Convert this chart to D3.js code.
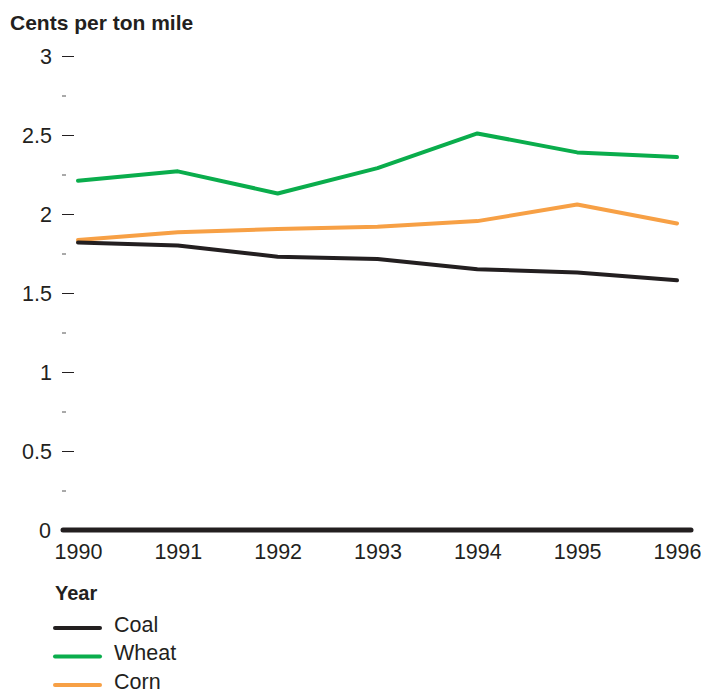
<!DOCTYPE html>
<html><head><meta charset="utf-8">
<script src="https://cdn.jsdelivr.net/npm/d3@7"></script>
<style>body{margin:0;background:#fff}text{font-family:"Liberation Sans",Arial,sans-serif;fill:#231f20}</style>
</head><body><svg id="c" width="701" height="694"></svg>
<script>
const years=[1990,1991,1992,1993,1994,1995,1996];
const coal=[1.82,1.80,1.73,1.715,1.65,1.63,1.58];
const wheat=[2.21,2.27,2.13,2.29,2.51,2.39,2.36];
const corn=[1.835,1.885,1.905,1.92,1.955,2.06,1.94];
const seriesNames=["Coal","Wheat","Corn"];
const seriesColors=["#231f20","#0aad4c","#f7a045"];
const majorTicks=[0,0.5,1,1.5,2,2.5,3];
const minorTicks=[0.25,0.75,1.25,1.75,2.25,2.75];

const svg=d3.select("#c");
const x=d3.scalePoint().domain(years).range([78,677]);
const y=d3.scaleLinear().domain([0,3]).range([530,56]);
const FS=21.5;

svg.append("text").attr("x",10).attr("y",30).attr("font-size",21).attr("font-weight","bold").text("Cents per ton mile");

const ya=svg.append("g").attr("transform","translate(74,0)")
 .call(d3.axisLeft(y).tickValues(majorTicks.filter(d=>d>0)).tickSize(12).tickPadding(10).tickFormat(d3.format("")));
ya.select(".domain").remove();
ya.selectAll("line").attr("stroke","#231f20").attr("stroke-width",1);
ya.selectAll("text").attr("font-size",FS).attr("dy","0.35em").style("font-family","Liberation Sans, Arial, sans-serif").attr("fill","#231f20");

const ym=svg.append("g").attr("transform","translate(66,0)")
 .call(d3.axisLeft(y).tickValues(minorTicks).tickSize(4).tickFormat(""));
ym.select(".domain").remove();
ym.selectAll("line").attr("stroke","#555").attr("stroke-width",1);

svg.append("text").attr("x",51).attr("y",y(0)).attr("dy","0.35em").attr("text-anchor","end").attr("font-size",FS).text("0");

const xa=svg.append("g").attr("transform","translate(0,"+(y(0)+6)+")")
 .call(d3.axisBottom(x).tickSize(0).tickPadding(8));
xa.select(".domain").remove();
xa.selectAll("text").attr("font-size",FS).attr("dy","0.71em").style("font-family","Liberation Sans, Arial, sans-serif").attr("fill","#231f20");

const all=[coal,wheat,corn];
const line=d3.line().x((d,i)=>x(years[i])).y(d=>y(d));
[1,2,0].forEach(k=>{
 svg.append("path").datum(all[k]).attr("d",line).attr("fill","none")
  .attr("stroke",seriesColors[k]).attr("stroke-width",4).attr("stroke-linejoin","round").attr("stroke-linecap","round");
});

svg.append("line").attr("x1",63).attr("x2",691).attr("y1",y(0)).attr("y2",y(0))
 .attr("stroke","#231f20").attr("stroke-width",5).attr("stroke-linecap","round");

svg.append("text").attr("x",55).attr("y",600).attr("font-size",20).attr("font-weight","bold").text("Year");
const lg=svg.selectAll(".lg").data(seriesNames).enter().append("g").attr("transform",(d,i)=>"translate(0,"+(628+i*28.5)+")");
lg.append("line").attr("x1",55).attr("x2",100).attr("stroke",(d,i)=>seriesColors[i]).attr("stroke-width",4).attr("stroke-linecap","round");
lg.append("text").attr("x",114).attr("y",-4).attr("dy","0.35em").attr("font-size",FS).text(d=>d);
</script></body></html>
